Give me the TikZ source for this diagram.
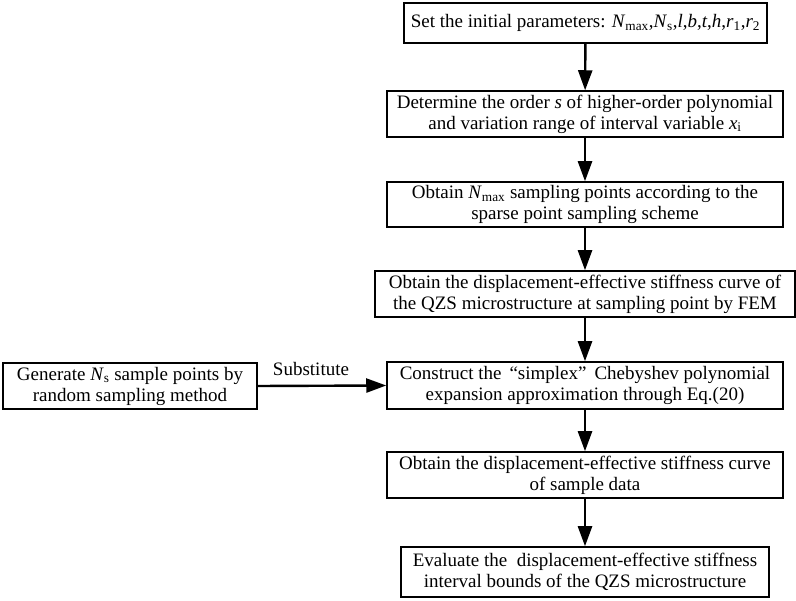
\documentclass[tikz,border=0pt]{standalone}
\usepackage{fontspec}
\setmainfont{Liberation Serif}
\usetikzlibrary{arrows.meta}
\newcommand{\iv}[1]{\textit{#1}}
\begin{document}
\begin{tikzpicture}[x=1pt,y=1pt,
  stepbox/.style={draw,line width=1.5pt,inner sep=0pt,align=center,
    font=\fontsize{19}{21}\selectfont},
  flow/.style={line width=2.4pt,-{Triangle[length=20pt,width=14pt]}},
  lbl/.style={font=\fontsize{19}{21}\selectfont,inner sep=0pt}]
\useasboundingbox (0,0) rectangle (796,-601);
\node[stepbox,minimum width=363pt,minimum height=40pt] (b1) at (585.5,-23)
  {Set the initial parameters: \iv{N}\textsubscript{max},\iv{N}\textsubscript{s},\iv{l},\iv{b},\iv{t},\iv{h},\iv{r}\textsubscript{1},\iv{r}\textsubscript{2}};
\node[stepbox,minimum width=396pt,minimum height=46pt] (b2) at (585,-114)
  {Determine the order \iv{s} of higher-order polynomial\\and variation range of interval variable \iv{x}\textsubscript{i}};
\node[stepbox,minimum width=396pt,minimum height=45pt] (b3) at (585,-204.5)
  {Obtain \iv{N}\textsubscript{max} sampling points according to the\\sparse point sampling scheme};
\node[stepbox,minimum width=420pt,minimum height=46pt] (b4) at (585,-294)
  {Obtain the displacement-effective stiffness curve of\\the QZS microstructure at sampling point by FEM};
\node[stepbox,minimum width=396pt,minimum height=47pt] (b5) at (585,-385.5)
  {Construct the \,“simplex”\ \,Chebyshev polynomial\\expansion approximation through Eq.(20)};
\node[stepbox,minimum width=254pt,minimum height=46pt] (gen) at (130,-386)
  {Generate \iv{N}\textsubscript{s} sample points by\\random sampling method};
\node[stepbox,minimum width=396pt,minimum height=46pt] (b6) at (585,-475)
  {Obtain the displacement-effective stiffness curve\\of sample data};
\node[stepbox,minimum width=368pt,minimum height=50pt] (b7) at (585,-572)
  {Evaluate the \ displacement-effective stiffness\\interval bounds of the QZS microstructure};
\node[lbl] (sub) at (311,-369) {Substitute};
\draw[flow] (b1) -- (b2);
\draw[flow] (b2) -- (b3);
\draw[flow] (b3) -- (b4);
\draw[flow] (b4) -- (b5);
\draw[flow] (b5) -- (b6);
\draw[flow] (b6) -- (b7);
\draw[flow] (gen.east) -- (b5.west);
\end{tikzpicture}
\end{document}
